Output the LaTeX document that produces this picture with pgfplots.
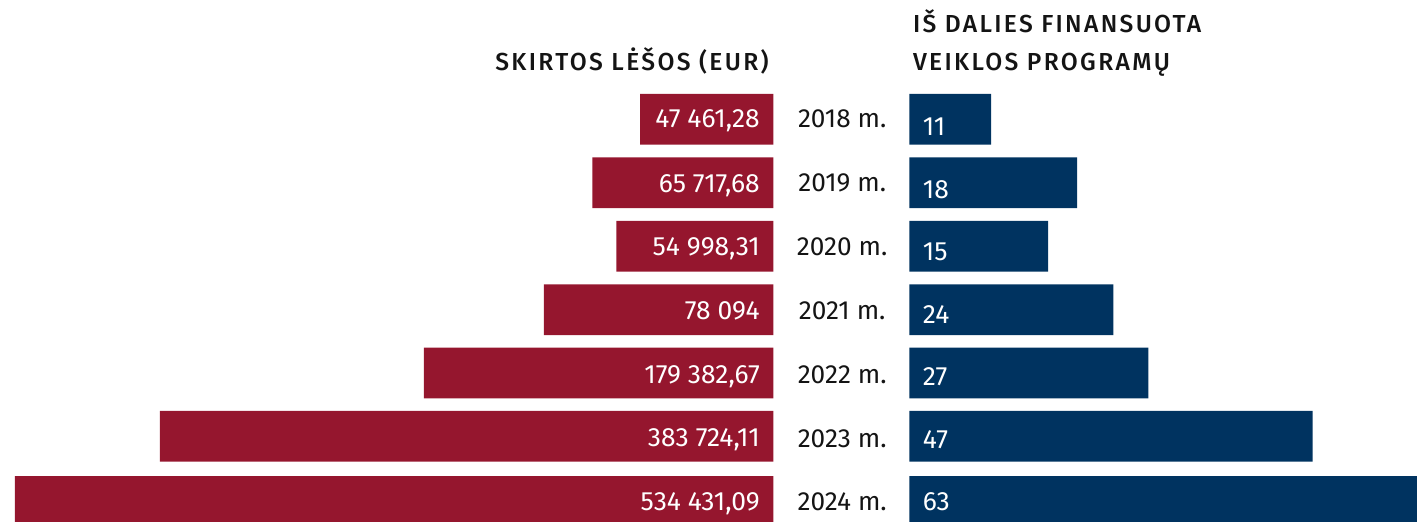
\documentclass[border=0pt]{standalone}
\usepackage{fontspec}
\setmainfont{Fira Sans}
\newfontfamily\headfont{Fira Sans Medium}[LetterSpace=9.5]
\usepackage{pgfplots}
\pgfplotsset{compat=1.18}
\definecolor{redc}{RGB}{149,22,46}
\definecolor{bluec}{RGB}{0,51,96}
\definecolor{txt}{RGB}{20,20,20}

\begin{document}
\begin{tikzpicture}[x=1pt,y=1pt]
% left: amounts (bar lengths as drawn, px)
\begin{axis}[at={(0pt,0pt)}, anchor=south west, scale only axis,
  width=386.65pt, height=261pt,
  xmin=0, xmax=773.3, x dir=reverse,
  ymin=0, ymax=522, y dir=reverse,
  hide axis, clip=true]
\addplot[xbar, bar width=25.35pt, fill=redc, draw=none]
  coordinates {(133.3,119.3) (181,182.8) (157,246.2) (229.3,309.7)
               (349.3,373) (613.3,436.3) (758.3,501.5)};
\addplot[draw=none, mark=none, nodes near coords, point meta=explicit symbolic,
  nodes near coords style={anchor=base east, inner sep=0pt, xshift=-6.6pt,
    text=white, font=\fontsize{13.2}{15}\selectfont}]
  coordinates {(0,127.3) [47 461,28] (0,192.2) [65 717,68] (0,256) [54 998,31]
               (0,319.3) [78 094] (0,383.3) [179 382,67] (0,447) [383 724,11]
               (0,510.6) [534 431,09]};
\end{axis}
% right: programmes
\begin{axis}[at={(454.65pt,0pt)}, anchor=south west, scale only axis,
  width=253.85pt, height=261pt,
  xmin=0, xmax=507.7,
  ymin=0, ymax=522, y dir=reverse,
  axis x line=none, axis y line*=left,
  y axis line style={draw=none}, ytick style={draw=none},
  ytick={127.3,191.3,255.5,320,383.3,447.3,510.7},
  yticklabels={2018 m.,2019 m.,2020 m.,2021 m.,2022 m.,2023 m.,2024 m.},
  yticklabel style={anchor=base, xshift=-33.55pt, inner sep=0pt,
    text=txt, font=\fontsize{13.1}{15}\selectfont},
  clip=true]
\addplot[xbar, bar width=25.35pt, fill=bluec, draw=none]
  coordinates {(81.7,119.3) (167.7,182.8) (138.7,246.2) (204,309.7)
               (239,373) (403.4,436.3) (540,501.5)};
\addplot[draw=none, mark=none, nodes near coords, point meta=explicit symbolic,
  nodes near coords style={anchor=base west, inner sep=0pt, xshift=6.6pt,
    text=white, font=\fontsize{13.2}{15}\selectfont}]
  coordinates {(0,136) [11] (0,198.4) [18] (0,260.9) [15] (0,323.4) [24]
               (0,385.8) [27] (0,448.3) [47] (0,510.7) [63]};
\end{axis}
\node[anchor=base east, inner sep=0pt, text=txt, font=\headfont\fontsize{12.3}{14}\selectfont]
  at (384.5pt,225.5pt) {SKIRTOS LĖŠOS (EUR)};
\node[anchor=base west, inner sep=0pt, text=txt, font=\headfont\fontsize{12.3}{14}\selectfont]
  at (456.3pt,244.65pt) {IŠ DALIES FINANSUOTA};
\node[anchor=base west, inner sep=0pt, text=txt, font=\headfont\fontsize{12.3}{14}\selectfont]
  at (456.3pt,225.5pt) {VEIKLOS PROGRAMŲ};
\pgfresetboundingbox
\path[use as bounding box] (0,0) rectangle (708.5pt,261pt);
\end{tikzpicture}
\end{document}
